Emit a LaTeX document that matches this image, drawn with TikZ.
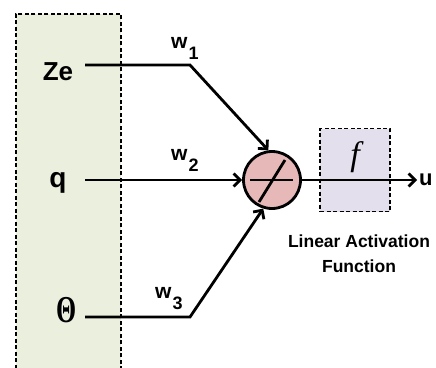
\documentclass[tikz,border=0pt]{standalone}
\usepackage{fontspec}
\setmainfont{Liberation Sans}
\newfontfamily\serifpart{Liberation Serif}
\usetikzlibrary{arrows.meta, positioning}
\definecolor{inputgreen}{RGB}{235,239,222}
\definecolor{sumred}{RGB}{230,185,184}
\definecolor{actlilac}{RGB}{228,223,236}

\begin{document}
\begin{tikzpicture}[
    x=1pt, y=-1pt,
    inputs/.style={draw, dash pattern=on 4pt off 2.5pt, line width=1.8pt, fill=inputgreen},
    actbox/.style={draw, dash pattern=on 4pt off 2.5pt, line width=1.8pt, fill=actlilac, minimum width=70pt, minimum height=83pt},
    sumnode/.style={draw, circle, line width=2.8pt, fill=sumred, minimum size=57pt, inner sep=0pt},
    var/.style={font=\bfseries\fontsize{26}{26}\selectfont, inner sep=0pt, anchor=base},
    weight/.style={font=\bfseries\fontsize{21}{21}\selectfont, inner sep=0pt, anchor=base west},
    wire/.style={line width=2.8pt},
    arr/.style={wire, -{Straight Barb[length=6.5pt, width=13pt]}}
  ]
  \useasboundingbox (0,0) rectangle (436,367);
  \node[inputs, minimum width=105pt, minimum height=362pt, anchor=north west] (inbox) at (15,13) {};

  \node[var] (ze) at (58,80) {Ze};
  \node[var, font=\bfseries\fontsize{28}{28}\selectfont] (q) at (58,187) {q};
  \node[var, font=\serifpart\bfseries\fontsize{38}{38}\selectfont] (theta) at (67,322) {\scalebox{0.68}[1]{Θ}};

  \coordinate (zein) at (85,65);
  \coordinate (zebend) at (190,65);
  \coordinate (qin) at (85,180);
  \coordinate (thetain) at (85,317);
  \coordinate (thetabend) at (190,317);

  \node[sumnode] (sum) at (272,180) {};
  \draw[line width=2.8pt] ([shift={(-22,0)}]sum.center) -- ([shift={(21,0)}]sum.center);
  \draw[line width=2.8pt] ([shift={(-13,22)}]sum.center) -- ([shift={(13,-20)}]sum.center);

  \node[actbox] (act) at (355,170) {};
  \node[font=\serifpart\itshape\fontsize{34}{34}\selectfont, inner sep=0pt] (fsym) at (355,157) {f};
  \node[font=\bfseries\fontsize{17.5}{25}\selectfont, align=center, below=19pt of act, xshift=4pt] (actlabel) {Linear Activation\\Function};
  \node[var, anchor=west, inner sep=2pt, font=\bfseries\fontsize{22}{22}\selectfont] (u) at (417,180) {u};

  \node[weight] (w1) at (171,48) {w\kern1pt\raisebox{-11pt}{\fontsize{18}{18}\selectfont 1}};
  \node[weight] (w2) at (171,160) {w\kern1pt\raisebox{-11pt}{\fontsize{18}{18}\selectfont 2}};
  \node[weight] (w3) at (155,298) {w\kern1pt\raisebox{-11pt}{\fontsize{18}{18}\selectfont 3}};

  \draw[arr] (zein) -- (zebend) -- (sum.97);
  \draw[arr] (qin) -- (sum.west);
  \draw[arr] (thetain) -- (thetabend) -- (sum.253);
  \draw[arr] (sum.east) -- (u.west);
\end{tikzpicture}
\end{document}
